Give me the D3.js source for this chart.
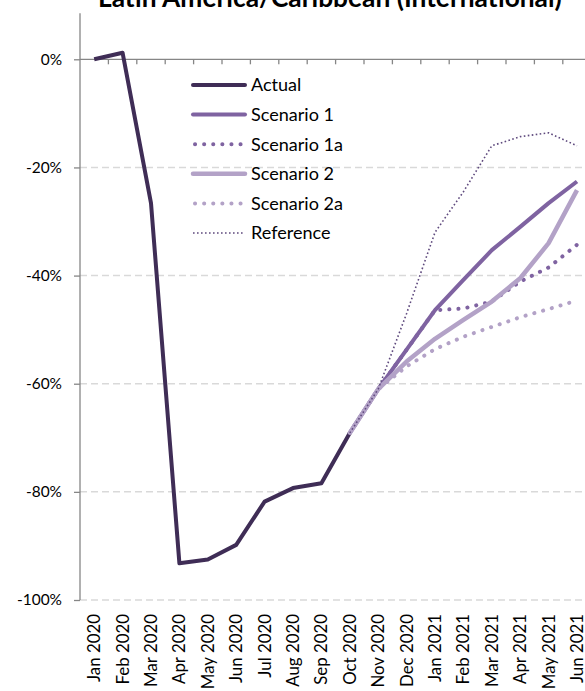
<!DOCTYPE html>
<html><head><meta charset="utf-8">
<script src="https://cdn.jsdelivr.net/npm/d3@7"></script>
<style>body{margin:0;background:#fff;}svg{display:block;}</style>
</head><body>
<svg id="c" width="585" height="691"></svg>
<script>
const months = ["Jan 2020","Feb 2020","Mar 2020","Apr 2020","May 2020","Jun 2020","Jul 2020","Aug 2020","Sep 2020","Oct 2020","Nov 2020","Dec 2020","Jan 2021","Feb 2021","Mar 2021","Apr 2021","May 2021","Jun 2021"];
const actual     = [0, 1.2, -26.6, -93.2, -92.5, -89.8, -81.8, -79.3, -78.4, -69.1, null, null, null, null, null, null, null, null];
const scenario1  = [null,null,null,null,null,null,null,null,null, -69.1, -61.0, -53.7, -46.4, -40.8, -35.3, -31.0, -26.6, -22.6];
const scenario1a = [null,null,null,null,null,null,null,null,null, -69.1, -61.0, -53.7, -46.4, -46.1, -44.8, -41.1, -38.5, -34.3];
const scenario2  = [null,null,null,null,null,null,null,null,null, -69.1, -61.0, -55.9, -51.7, -48.2, -44.8, -40.5, -34.0, -24.2];
const scenario2a = [null,null,null,null,null,null,null,null,null, -69.1, -61.0, -56.8, -53.6, -51.3, -49.5, -47.7, -46.2, -44.6];
const reference  = [null,null,null,null,null,null,null,null,null, -69.1, -61.0, -47.0, -32.0, -24.5, -16.0, -14.3, -13.6, -16.0];
const yTicks = [0, -20, -40, -60, -80, -100];
const seriesNames = ["Actual","Scenario 1","Scenario 1a","Scenario 2","Scenario 2a","Reference"];
const title = "Latin America/Caribbean (International)";

const FONT = "Lato, 'Open Sans', sans-serif";
const svg = d3.select("#c");

const x = d3.scaleBand().domain(months).range([80, 80 + 18*28.4]).padding(0);
const y = d3.scaleLinear().domain([-100, 10]).range([600, 600 - 110*5.407]);
const cx = m => x(m) + x.bandwidth()/2;

function fit(text, weight, target, base) {
  const t = svg.append("text").attr("font-family", FONT).attr("font-weight", weight).attr("font-size", base).text(text);
  const w = t.node().getComputedTextLength();
  t.remove();
  return base * target / w;
}
const titleSize = fit(title, "bold", 464, 20);
const xlabSize = fit("Jan 2020", "normal", 68, 16);
const ylabSize = fit("-100%", "normal", 45, 16);
const legSize = fit("Scenario 2a", "normal", 92, 16);

// gridlines
const gridVals = [-20,-40,-60,-80,-100];
svg.append("g").selectAll("line").data(gridVals).join("line")
  .attr("x1", 80).attr("x2", 585)
  .attr("y1", d => y(d)).attr("y2", d => y(d))
  .attr("stroke", "#d9d9d9").attr("stroke-width", 1.5).attr("stroke-dasharray", "7,4");

// y axis
const yAxis = d3.axisLeft(y).tickValues(yTicks).tickSize(6).tickFormat(d => d + "%");
const gy = svg.append("g").attr("transform", "translate(80,0)").call(yAxis);
gy.select(".domain").attr("stroke", "#868686").attr("stroke-width", 1.3).attr("d", `M0,${y(-100)}V${y(8.5)}`);
gy.selectAll(".tick line").attr("stroke", "#868686").attr("stroke-width", 1.3);
gy.selectAll(".tick text").attr("font-family", FONT).attr("font-size", ylabSize).attr("fill", "#000").attr("x", -18);

// x axis at 0%
const xAxis = d3.axisBottom(x).tickSize(0).tickFormat("");
const gx = svg.append("g").attr("transform", `translate(0,${y(0)})`).call(xAxis);
gx.select(".domain").attr("stroke", "#868686").attr("stroke-width", 1.3).attr("d", `M80,0H585`);
gx.selectAll(".tick").remove();
svg.append("g").selectAll("line").data(months.slice(1)).join("line")
  .attr("x1", d => x(d)).attr("x2", d => x(d))
  .attr("y1", y(0)).attr("y2", y(0) + 5)
  .attr("stroke", "#868686").attr("stroke-width", 1.3);

// x labels at bottom
svg.append("g").selectAll("text").data(months).join("text")
  .attr("transform", d => `translate(${cx(d)},614) rotate(-90)`)
  .attr("text-anchor", "end").attr("dy", "0.35em")
  .attr("font-family", FONT).attr("font-size", xlabSize).attr("fill", "#000")
  .text(d => d);

// title
svg.append("text").attr("x", 98).attr("y", 6.5).attr("font-family", FONT).attr("font-weight", "bold")
  .attr("font-size", titleSize).attr("fill", "#000").text(title);

const styles = [
  {data: actual,     color: "#3f2d56", width: 4,   dash: null, cap: "butt"},
  {data: scenario1,  color: "#7f63a1", width: 4,   dash: null, cap: "butt"},
  {data: scenario1a, color: "#7f63a1", width: 4,   dash: "0.1,9", cap: "round"},
  {data: scenario2,  color: "#b3a2c7", width: 4.5, dash: null, cap: "butt"},
  {data: scenario2a, color: "#b3a2c7", width: 4,   dash: "0.1,9", cap: "round"},
  {data: reference,  color: "#5f4a7e", width: 1.6, dash: "1.6,2.4", cap: "butt"}
];

const line = d3.line().defined(d => d.v !== null).x(d => cx(d.m)).y(d => y(d.v));
styles.forEach(s => {
  svg.append("path")
    .datum(months.map((m, i) => ({m, v: s.data[i]})))
    .attr("d", line).attr("fill", "none")
    .attr("stroke", s.color).attr("stroke-width", s.width)
    .attr("stroke-linejoin", "round").attr("stroke-linecap", s.cap)
    .attr("stroke-dasharray", s.dash);
});

// legend
const lg = svg.append("g");
seriesNames.forEach((name, i) => {
  const s = styles[i];
  const yy = 85 + i * 29.6;
  lg.append("line").attr("x1", s.cap === "round" ? 195 : 193).attr("x2", 245).attr("y1", yy).attr("y2", yy)
    .attr("stroke", s.color).attr("stroke-width", s.width)
    .attr("stroke-linecap", s.dash && s.cap !== "round" ? "butt" : "round")
    .attr("stroke-dasharray", s.dash);
  lg.append("text").attr("x", 251).attr("y", yy).attr("dy", "0.35em")
    .attr("font-family", FONT).attr("font-size", legSize).attr("fill", "#000").text(name);
});
</script>
</body></html>
